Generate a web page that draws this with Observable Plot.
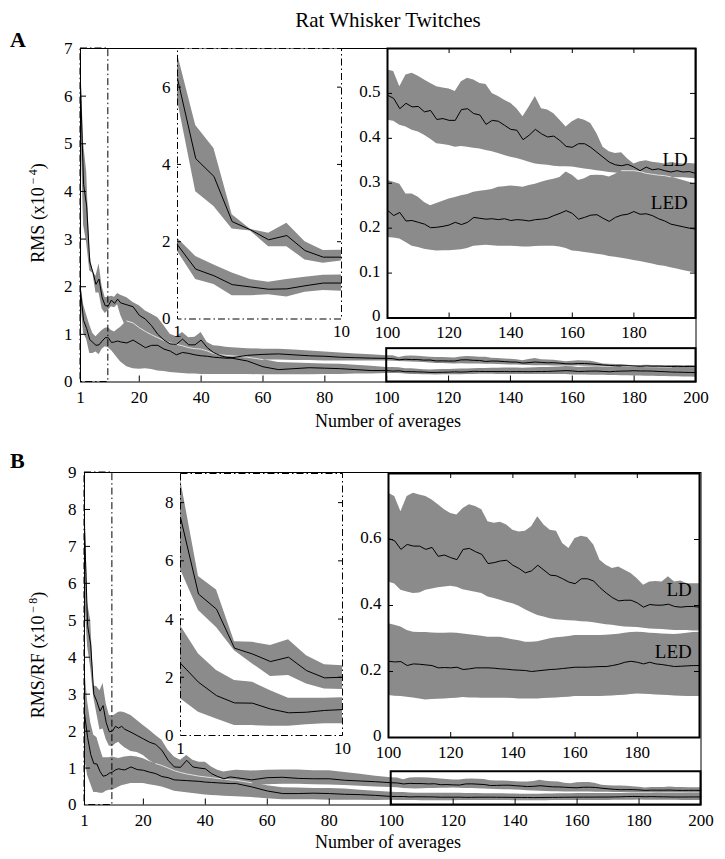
<!DOCTYPE html>
<html><head><meta charset="utf-8">
<script src="https://cdn.jsdelivr.net/npm/d3@7"></script>
<script src="https://cdn.jsdelivr.net/npm/@observablehq/plot@0.6"></script>
<style>
body{margin:0;background:#fff;}
#fig{position:relative;width:725px;height:859px;overflow:hidden;background:#fff;font-family:"Liberation Serif","DejaVu Serif",serif;}
#fig svg{position:absolute;overflow:visible;}
</style></head><body><div id="fig"></div>
<script>
// ---------- data ----------
const averages = [1,2,3,4,5,6,7,8,9,10,11,12,13,14,16,18,20,22,24,26,28,30,32,34,36,38,40,42,44,46,48,50,55,60,65,70,75,80,85,90,95,100,
 102,104,106,108,110,112,114,116,118,120,122,124,126,128,130,132,134,136,138,140,142,144,146,148,150,152,154,156,158,160,
 162,164,166,168,170,172,174,176,178,180,182,184,186,188,190,192,194,196,198,200];

const seriesNames = ["LD", "LED"];
const mainXTicks = [1,20,40,60,80,100,120,140,160,180,200];
const nearXTicks = [1,10];
const farXTicks = [100,120,140,160,180];
const mainYTicksA = [0,1,2,3,4,5,6,7];
const nearYTicksA = [0,2,4,6];
const farYTicksA = [0,0.1,0.2,0.3,0.4,0.5];
const mainYTicksB = [0,1,2,3,4,5,6,7,8,9];
const nearYTicksB = [0,2,4,6,8];
const farYTicksB = [0,0.2,0.4,0.6];

// Panel A: RMS (x10^-4)
const ldMeanA = [6.22,4.15,3.69,2.52,2.31,2.05,2.16,1.77,1.60,1.60, 1.72,1.65,1.74,1.66,
 1.62,1.58,1.40,1.32,1.18,1.00,0.88,0.80,0.79,0.90,0.78,0.78,0.88,0.72,0.62,0.56,0.52,0.51,
 0.56,0.58,0.59,0.57,0.55,0.54,0.52,0.51,0.50,0.496,
 0.489,0.466,0.478,0.470,0.471,0.459,0.462,0.442,0.444,0.440,0.440,0.464,0.466,0.455,0.452,0.431,0.440,0.438,0.429,0.420,
 0.418,0.397,0.407,0.420,0.410,0.403,0.405,0.395,0.382,0.380,0.388,0.388,0.380,0.369,0.358,0.347,0.341,0.339,0.342,0.336,
 0.328,0.336,0.330,0.332,0.328,0.325,0.328,0.325,0.326,0.322];
const ldHiA = [6.86,5.01,4.41,2.70,2.32,2.22,2.48,2.00,1.77,1.78, 1.80,1.78,1.86,1.82,
 1.77,1.67,1.60,1.49,1.42,1.35,1.18,1.00,0.95,1.04,0.93,0.94,1.04,0.83,0.76,0.75,0.73,0.72,
 0.70,0.69,0.69,0.67,0.65,0.63,0.61,0.59,0.57,0.552,
 0.549,0.515,0.541,0.545,0.538,0.530,0.522,0.515,0.512,0.510,0.504,0.526,0.534,0.530,0.522,0.520,0.500,0.493,0.485,0.478,
 0.466,0.448,0.470,0.493,0.466,0.463,0.455,0.440,0.425,0.437,0.444,0.440,0.433,0.410,0.380,0.370,0.366,0.368,0.354,0.343,
 0.348,0.350,0.347,0.345,0.343,0.346,0.344,0.343,0.344,0.343];
const ldLoA = [5.66,3.29,2.91,2.33,2.28,1.87,1.87,1.53,1.44,1.50, 1.58,1.56,1.62,1.40,
 1.10,1.08,1.02,0.98,0.92,0.85,0.76,0.69,0.67,0.66,0.64,0.63,0.62,0.58,0.54,0.50,0.46,0.44,
 0.43,0.46,0.46,0.45,0.45,0.44,0.44,0.44,0.44,0.44,
 0.438,0.429,0.425,0.418,0.414,0.407,0.398,0.388,0.386,0.384,0.380,0.382,0.380,0.378,0.376,0.373,0.370,0.366,0.362,0.358,
 0.355,0.351,0.347,0.343,0.341,0.340,0.338,0.337,0.337,0.336,0.334,0.332,0.330,0.328,0.326,0.324,0.323,0.321,0.319,0.317,
 0.315,0.314,0.314,0.314,0.313,0.313,0.312,0.312,0.311,0.310];
const ledMeanA = [1.92,1.29,1.12,0.89,0.83,0.77,0.78,0.86,0.93,0.93, 0.83,0.84,0.86,0.84,
 0.82,0.88,0.80,0.72,0.77,0.77,0.69,0.65,0.57,0.62,0.60,0.57,0.55,0.54,0.52,0.51,0.50,0.50,
 0.44,0.32,0.26,0.28,0.30,0.29,0.28,0.26,0.24,0.24,
 0.228,0.235,0.216,0.217,0.213,0.209,0.201,0.202,0.204,0.207,0.213,0.208,0.213,0.224,0.222,0.220,0.221,0.219,0.221,0.217,
 0.219,0.218,0.216,0.219,0.220,0.222,0.228,0.233,0.239,0.233,0.220,0.224,0.229,0.230,0.222,0.215,0.224,0.229,0.231,0.237,
 0.231,0.232,0.228,0.221,0.216,0.209,0.206,0.203,0.200,0.198];
const ledHiA = [2.09,1.62,1.40,1.19,1.02,0.95,1.02,1.08,1.13,1.14, 1.08,1.05,1.10,1.15,
 1.28,1.24,1.14,1.06,0.99,0.93,0.87,0.82,0.79,0.76,0.72,0.70,0.69,0.65,0.60,0.57,0.56,0.55,
 0.52,0.47,0.41,0.40,0.39,0.38,0.37,0.35,0.33,0.306,
 0.302,0.298,0.276,0.276,0.269,0.257,0.250,0.255,0.260,0.265,0.268,0.272,0.275,0.280,0.282,0.284,0.286,0.291,0.292,0.294,
 0.293,0.291,0.295,0.298,0.302,0.306,0.309,0.313,0.325,0.318,0.306,0.310,0.317,0.318,0.317,0.314,0.320,0.328,0.328,0.328,
 0.326,0.322,0.320,0.318,0.317,0.314,0.310,0.306,0.302,0.298];
const ledLoA = [1.75,1.02,0.89,0.60,0.60,0.63,0.57,0.69,0.74,0.72, 0.66,0.58,0.50,0.42,
 0.32,0.28,0.27,0.28,0.26,0.23,0.22,0.20,0.19,0.18,0.17,0.17,0.16,0.16,0.16,0.16,0.16,0.16,
 0.16,0.15,0.15,0.15,0.15,0.16,0.16,0.17,0.17,0.179,
 0.178,0.176,0.168,0.160,0.157,0.153,0.151,0.149,0.150,0.150,0.151,0.152,0.155,0.160,0.161,0.162,0.161,0.160,0.160,0.160,
 0.159,0.158,0.158,0.159,0.160,0.160,0.160,0.158,0.155,0.149,0.148,0.146,0.144,0.142,0.140,0.137,0.135,0.133,0.131,0.128,
 0.126,0.123,0.120,0.117,0.115,0.112,0.109,0.106,0.103,0.100];

// Panel B: RMS/RF (x10^-8)
const ldMeanB = [7.49,4.86,4.34,3.00,2.80,2.54,2.69,2.23,1.98,2.00, 2.13,2.08,2.13,2.05,
 1.97,1.88,1.79,1.70,1.64,1.48,1.21,1.03,1.02,1.21,1.03,1.00,0.98,0.85,0.77,0.71,0.76,0.74,
 0.68,0.74,0.75,0.72,0.71,0.71,0.67,0.65,0.63,0.603,
 0.596,0.570,0.585,0.580,0.580,0.570,0.576,0.549,0.553,0.545,0.539,0.570,0.573,0.563,0.555,0.527,0.530,0.535,0.537,0.522,
 0.512,0.499,0.505,0.522,0.507,0.492,0.490,0.481,0.471,0.466,0.481,0.481,0.474,0.454,0.438,0.424,0.414,0.416,0.416,0.408,
 0.395,0.403,0.401,0.401,0.404,0.397,0.395,0.397,0.397,0.395];
const ldHiB = [8.80,5.46,5.00,3.22,3.20,3.09,3.29,2.74,2.43,2.40, 2.45,2.51,2.52,2.50,
 2.42,2.29,2.15,2.02,1.88,1.75,1.48,1.30,1.21,1.34,1.21,1.16,1.16,1.03,0.94,0.89,0.92,0.94,
 0.92,0.94,0.95,0.95,0.93,0.93,0.88,0.83,0.78,0.74,
 0.730,0.684,0.730,0.740,0.735,0.730,0.720,0.705,0.690,0.679,0.674,0.694,0.705,0.700,0.690,0.654,0.649,0.652,0.644,0.628,
 0.623,0.625,0.639,0.669,0.644,0.628,0.625,0.588,0.573,0.603,0.610,0.606,0.583,0.537,0.522,0.512,0.517,0.507,0.497,0.481,
 0.461,0.471,0.473,0.471,0.487,0.471,0.474,0.466,0.466,0.466];
const ldLoB = [5.70,4.29,3.71,2.91,2.46,2.03,2.06,1.77,1.60,1.58, 1.65,1.70,1.62,1.55,
 1.45,1.42,1.34,1.20,1.10,1.00,0.90,0.80,0.78,0.77,0.76,0.74,0.71,0.67,0.62,0.58,0.55,0.53,
 0.53,0.55,0.56,0.56,0.55,0.54,0.53,0.51,0.49,0.471,
 0.465,0.446,0.441,0.436,0.438,0.446,0.450,0.454,0.456,0.458,0.455,0.448,0.444,0.440,0.436,0.426,0.421,0.416,0.410,0.405,
 0.398,0.387,0.378,0.370,0.365,0.360,0.357,0.355,0.354,0.353,0.351,0.350,0.348,0.345,0.342,0.340,0.337,0.335,0.334,0.333,
 0.331,0.329,0.328,0.327,0.326,0.324,0.324,0.324,0.323,0.323];
const ledMeanB = [2.48,1.83,1.37,1.12,1.11,0.91,0.78,0.80,0.86,0.89, 0.95,0.98,0.96,0.95,
 1.03,0.96,0.94,0.89,0.85,0.77,0.74,0.68,0.67,0.66,0.65,0.64,0.62,0.61,0.60,0.59,0.58,0.58,
 0.49,0.38,0.31,0.31,0.32,0.31,0.29,0.28,0.26,0.231,
 0.229,0.230,0.218,0.223,0.222,0.220,0.218,0.211,0.212,0.211,0.213,0.206,0.208,0.211,0.211,0.211,0.210,0.208,0.207,0.205,
 0.204,0.203,0.200,0.202,0.204,0.206,0.207,0.209,0.211,0.213,0.213,0.213,0.214,0.215,0.215,0.218,0.222,0.228,0.231,0.228,
 0.223,0.228,0.223,0.221,0.218,0.215,0.216,0.217,0.218,0.218];
const ledHiB = [3.77,2.80,2.23,1.89,1.83,1.54,1.28,1.28,1.28,1.30, 1.28,1.26,1.28,1.30,
 1.32,1.30,1.25,1.18,1.12,1.07,1.00,0.93,0.88,0.84,0.81,0.78,0.76,0.74,0.72,0.70,0.68,0.67,
 0.60,0.52,0.47,0.46,0.45,0.45,0.43,0.40,0.37,0.345,
 0.340,0.335,0.324,0.319,0.318,0.318,0.317,0.316,0.316,0.317,0.316,0.314,0.311,0.309,0.307,0.304,0.304,0.304,0.300,0.296,
 0.293,0.289,0.289,0.290,0.295,0.299,0.302,0.304,0.306,0.309,0.309,0.309,0.309,0.309,0.310,0.311,0.313,0.316,0.318,0.319,
 0.318,0.316,0.315,0.314,0.313,0.312,0.314,0.316,0.318,0.319];
const ledLoB = [1.26,0.80,0.57,0.34,0.34,0.32,0.32,0.37,0.40,0.40, 0.44,0.48,0.52,0.54,
 0.58,0.58,0.58,0.55,0.52,0.49,0.43,0.37,0.35,0.33,0.31,0.29,0.27,0.26,0.25,0.24,0.23,0.22,
 0.20,0.17,0.14,0.14,0.14,0.13,0.13,0.13,0.12,0.127,
 0.125,0.124,0.122,0.120,0.117,0.114,0.115,0.116,0.117,0.118,0.119,0.121,0.120,0.120,0.119,0.119,0.119,0.119,0.119,0.118,
 0.117,0.117,0.117,0.117,0.118,0.119,0.120,0.121,0.122,0.124,0.124,0.124,0.124,0.124,0.125,0.126,0.127,0.128,0.130,0.132,
 0.131,0.130,0.129,0.128,0.127,0.126,0.125,0.124,0.124,0.124];

// zoom regions shown in insets
const nearRange = [1, 10];
const farRange = [100, 200];

// ---------- drawing ----------
const GRAY = "#8b8b8b";
const FONT = "'Liberation Serif','DejaVu Serif',serif";
const fig = document.getElementById("fig");

function makeRows(ld, ldLo, ldHi, led, ledLo, ledHi) {
  return averages.map((x, i) => ({x, ld: ld[i], ldLo: ldLo[i], ldHi: ldHi[i], led: led[i], ledLo: ledLo[i], ledHi: ledHi[i]}));
}
const rowsA = makeRows(ldMeanA, ldLoA, ldHiA, ledMeanA, ledLoA, ledHiA);
const rowsB = makeRows(ldMeanB, ldLoB, ldHiB, ledMeanB, ledLoB, ledHiB);

// LED upper edge, shown as a light seam only where it runs inside the LD band
const seam = d => (d.ledHi > d.ldLo && d.ledHi < d.ldHi) ? d.ledHi : NaN;

function drawPanel(o) {
  const w = o.R - o.L, h = o.B - o.T;
  const data = o.rows.filter(d => d.x >= o.xDomain[0] && d.x <= o.xDomain[1]);
  const marks = [
    Plot.frame({fill: "white", stroke: "none"}),
    Plot.areaY(data, {x: "x", y1: "ldLo", y2: "ldHi", fill: GRAY}),
    Plot.areaY(data, {x: "x", y1: "ledLo", y2: "ledHi", fill: GRAY}),
    Plot.lineY(data, {x: "x", y: seam, stroke: "#ececec", strokeWidth: 0.9}),
    Plot.lineY(data, {x: "x", y: "ld", stroke: "#000", strokeWidth: 1}),
    Plot.lineY(data, {x: "x", y: "led", stroke: "#000", strokeWidth: 1}),
    ...(o.extra || []),
    Plot.axisX({ticks: o.xTicks, tickSize: 0, tickPadding: o.xPad, tickFormat: d => String(d), fontSize: o.fs, label: null}),
    Plot.axisY({ticks: o.yTicks, tickSize: 0, tickPadding: o.yPad, tickFormat: d => String(d), fontSize: o.fs, label: null, dy: o.yDy || 0})
  ];
  const t = o.tickLen;
  if (o.bottomTicks) marks.push(Plot.tickX(o.bottomTicks, {x: d => d, insetTop: h - t, stroke: "#000"}));
  if (o.topTicks) marks.push(Plot.tickX(o.topTicks, {x: d => d, insetBottom: h - t, stroke: "#000"}));
  if (o.leftTicks) marks.push(Plot.tickY(o.leftTicks, {y: d => d, insetRight: w - t, stroke: "#000"}));
  if (o.rightTicks) marks.push(Plot.tickY(o.rightTicks, {y: d => d, insetLeft: w - t, stroke: "#000"}));
  marks.push(Plot.frame(o.frame));
  const svg = Plot.plot({
    width: w + o.ml + o.mr,
    height: h + o.mt + o.mb,
    marginLeft: o.ml, marginRight: o.mr, marginTop: o.mt, marginBottom: o.mb,
    x: {domain: o.xDomain},
    y: {domain: o.yDomain},
    style: {fontFamily: FONT, fontSize: o.fs + "px", background: "transparent", overflow: "visible", color: "#000"},
    marks
  });
  svg.style.position = "absolute";
  svg.style.left = (o.L - o.ml) + "px";
  svg.style.top = (o.T - o.mt) + "px";
  fig.appendChild(svg);
}

function zoomBoxes(yTop, boxTop) {
  return [
    Plot.rect([{x1: nearRange[0], x2: nearRange[1], y1: 0, y2: yTop}], {x1: "x1", x2: "x2", y1: "y1", y2: "y2", fill: "none", stroke: "#000", strokeWidth: 1, strokeDasharray: "7,3,1.5,3"}),
    Plot.rect([{x1: farRange[0], x2: farRange[1], y1: 0, y2: boxTop}], {x1: "x1", x2: "x2", y1: "y1", y2: "y2", fill: "none", stroke: "#000", strokeWidth: 2})
  ];
}
function seriesLabels(yLD, yLED) {
  return [
    Plot.text([seriesNames[0]], {x: 197.5, y: yLD, text: d => d, textAnchor: "end", fontSize: 19, fill: "#000"}),
    Plot.text([seriesNames[1]], {x: 197.5, y: yLED, text: d => d, textAnchor: "end", fontSize: 19, fill: "#000"})
  ];
}

// ----- Panel A -----
drawPanel({rows: rowsA, L: 79.5, T: 47.5, R: 695, B: 381, xDomain: [1, 200], yDomain: [0, 7],
  xTicks: mainXTicks, yTicks: mainYTicksA, fs: 17, xPad: 9, yPad: 8, ml: 40, mr: 10, mt: 5, mb: 32,
  tickLen: 6, bottomTicks: mainXTicks.slice(1, -1), leftTicks: mainYTicksA.slice(1, -1),
  extra: zoomBoxes(7, 0.7), frame: {stroke: "#000", strokeWidth: 1}});
drawPanel({rows: rowsA, L: 177, T: 47.5, R: 341, B: 318, xDomain: nearRange, yDomain: [0, 7],
  xTicks: nearXTicks, yTicks: nearYTicksA, fs: 17, xPad: 6, yPad: 7, ml: 25, mr: 10, mt: 2, mb: 28,
  tickLen: 4, leftTicks: nearYTicksA.slice(1), rightTicks: nearYTicksA.slice(1),
  frame: {stroke: "#000", strokeWidth: 1, strokeDasharray: "7,3,1.5,3"}});
drawPanel({rows: rowsA, L: 387, T: 47.5, R: 695, B: 317, xDomain: farRange, yDomain: [0, 0.6],
  xTicks: farXTicks, yTicks: farYTicksA, fs: 17, xPad: 8, yPad: 7, yDy: -2, ml: 30, mr: 10, mt: 2, mb: 28,
  tickLen: 5, bottomTicks: farXTicks.slice(1), topTicks: farXTicks.slice(1), leftTicks: farYTicksA.slice(1), rightTicks: farYTicksA.slice(1),
  extra: seriesLabels(0.351, 0.256), frame: {stroke: "#000", strokeWidth: 2}});

// ----- Panel B -----
drawPanel({rows: rowsB, L: 83.5, T: 472, R: 700, B: 804.5, xDomain: [1, 200], yDomain: [0, 9],
  xTicks: mainXTicks, yTicks: mainYTicksB, fs: 17, xPad: 9, yPad: 8, ml: 40, mr: 10, mt: 5, mb: 32,
  tickLen: 6, bottomTicks: mainXTicks.slice(1, -1), leftTicks: mainYTicksB.slice(1, -1),
  extra: zoomBoxes(9, 0.9), frame: {stroke: "#000", strokeWidth: 1}});
drawPanel({rows: rowsB, L: 180, T: 473, R: 342, B: 735, xDomain: nearRange, yDomain: [0, 9],
  xTicks: nearXTicks, yTicks: nearYTicksB, fs: 17, xPad: 6, yPad: 7, ml: 25, mr: 10, mt: 2, mb: 28,
  tickLen: 4, leftTicks: nearYTicksB.slice(1), rightTicks: nearYTicksB.slice(1),
  frame: {stroke: "#000", strokeWidth: 1, strokeDasharray: "7,3,1.5,3"}});
drawPanel({rows: rowsB, L: 388, T: 473, R: 699, B: 737, xDomain: farRange, yDomain: [0, 0.8],
  xTicks: farXTicks, yTicks: farYTicksB, fs: 17, xPad: 8, yPad: 7, yDy: -2, ml: 30, mr: 10, mt: 2, mb: 28,
  tickLen: 5, bottomTicks: farXTicks.slice(1), topTicks: farXTicks.slice(1), leftTicks: farYTicksB.slice(1), rightTicks: farYTicksB.slice(1),
  extra: seriesLabels(0.448, 0.26), frame: {stroke: "#000", strokeWidth: 2}});

// ----- text overlay -----
const ov = d3.select(fig).append("svg").attr("width", 725).attr("height", 859)
  .style("left", "0px").style("top", "0px").style("pointer-events", "none")
  .attr("font-family", FONT).attr("fill", "#000");
ov.append("text").attr("x", 388).attr("y", 27).attr("text-anchor", "middle").attr("font-size", 21).text("Rat Whisker Twitches");
ov.append("text").attr("x", 10).attr("y", 47).attr("font-size", 22).attr("font-weight", "bold").text("A");
ov.append("text").attr("x", 10).attr("y", 468).attr("font-size", 22).attr("font-weight", "bold").text("B");
ov.append("text").attr("x", 388).attr("y", 427).attr("text-anchor", "middle").attr("font-size", 18).text("Number of averages");
ov.append("text").attr("x", 388).attr("y", 848).attr("text-anchor", "middle").attr("font-size", 18).text("Number of averages");
function yLabel(cx, cy, base, exp) {
  const t = ov.append("text").attr("transform", `translate(${cx},${cy}) rotate(-90)`).attr("text-anchor", "middle").attr("font-size", 18);
  t.append("tspan").text(base + "(x10");
  t.append("tspan").attr("font-size", 12).attr("dx", 3).attr("dy", -7).text("\u2212");
  t.append("tspan").attr("font-size", 12).attr("dx", 2).text(exp);
  t.append("tspan").attr("dy", 7).text(")");
}
yLabel(44, 213, "RMS ", "4");
yLabel(44, 655, "RMS/RF ", "8");
</script>
</body></html>
